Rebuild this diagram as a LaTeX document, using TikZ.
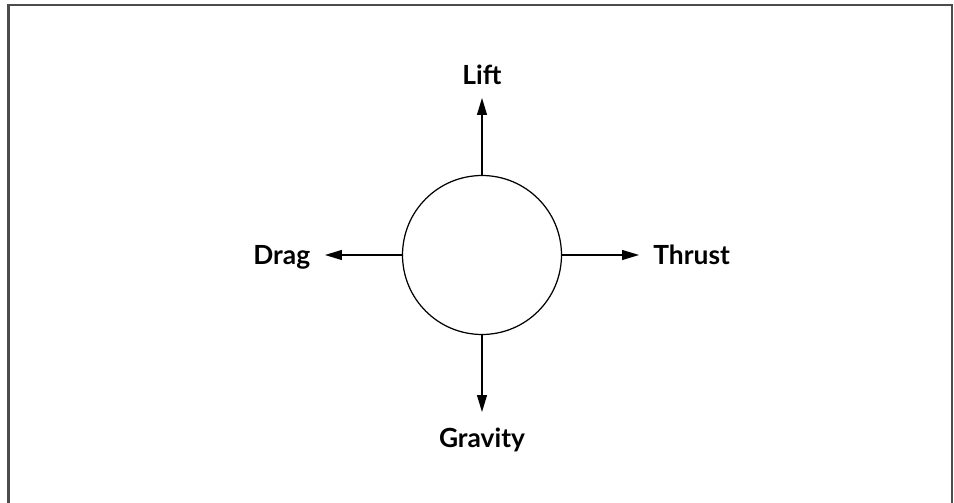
\documentclass[tikz,border=0pt]{standalone}
\usepackage{fontspec}
\setmainfont{Lato}
\usetikzlibrary{positioning,arrows.meta}

\begin{document}
\begin{tikzpicture}[
  x=0.02cm, y=-0.02cm,
  ball/.style={draw, circle, minimum size=3.18cm, inner sep=0pt, line width=0.7pt},
  arr/.style={-{Triangle[length=3.4mm, width=2mm]}, line width=0.7pt},
  lbl/.style={font=\fontsize{15}{18}\selectfont\bfseries, inner sep=0pt, text depth=0pt},
]
  \useasboundingbox (0,0) rectangle (954,503);
  % frame
  \draw[line width=1.2pt, black!70] (8.5,503) |- (952,5) -- (952,503);

  \node[ball] (body) at (482,255) {};
  \coordinate (liftend) at (482,98);
  \coordinate (dragend) at (325,255);
  \coordinate (thrustend) at (639,255);
  \coordinate (gravend) at (482,412);

  \node[lbl, above=0.26cm of liftend] (lift) {Lift};
  \node[lbl, left=0.29cm of dragend] (drag) {Drag};
  \node[lbl, right=0.28cm of thrustend] (thrust) {Thrust};
  \node[lbl, below=0.32cm of gravend] (gravity) {Gravity};

  \draw[arr] (body.north) -- (liftend);
  \draw[arr] (body.west) -- (dragend);
  \draw[arr] (body.east) -- (thrustend);
  \draw[arr] (body.south) -- (gravend);
\end{tikzpicture}
\end{document}
